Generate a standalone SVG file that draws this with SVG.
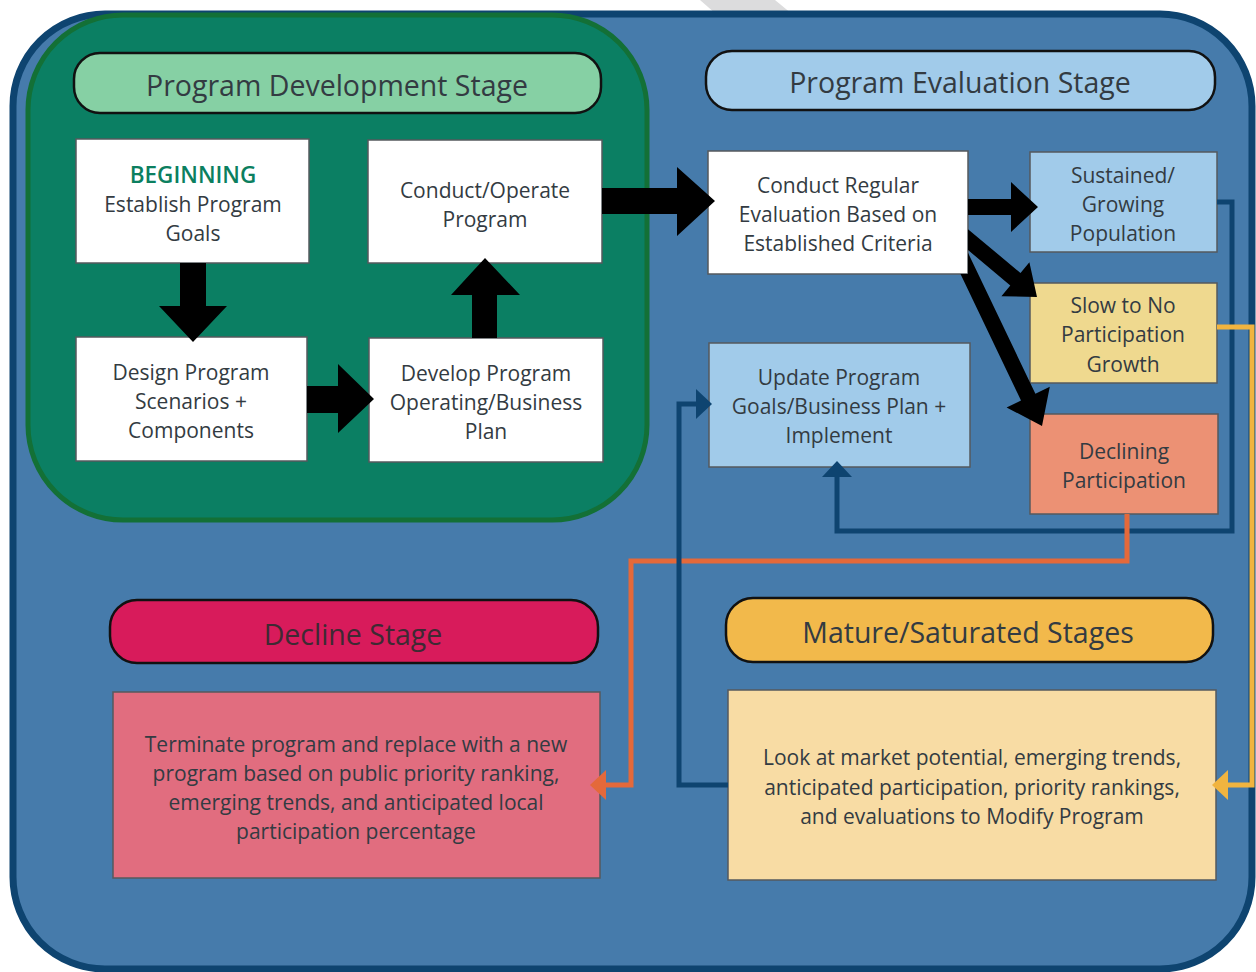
<svg xmlns="http://www.w3.org/2000/svg" width="1256" height="972" viewBox="0 0 1256 972">
<style>
  text { font-family: "Open Sans", "Noto Sans", sans-serif; fill: #333b42; text-anchor: middle; }
  .h { font-size: 28.5px; }
  .t { font-size: 21px; }
  .box { stroke: #555a5e; stroke-width: 1.5; }
  .pill { stroke: #111; stroke-width: 2.5; }
  .blk { fill: #000; }
  .ln { fill: none; stroke-width: 5; }
</style>
<defs>
  <marker id="ah-blue" markerUnits="userSpaceOnUse" markerWidth="16" markerHeight="30" refX="0" refY="15" orient="auto" overflow="visible"><path d="M0,0 L16,15 L0,30 Z" fill="#0e4470"/></marker>
  <marker id="ah-orange" markerUnits="userSpaceOnUse" markerWidth="16" markerHeight="30" refX="0" refY="15" orient="auto" overflow="visible"><path d="M0,0 L16,15 L0,30 Z" fill="#e4693a"/></marker>
  <marker id="ah-yellow" markerUnits="userSpaceOnUse" markerWidth="16" markerHeight="30" refX="0" refY="15" orient="auto" overflow="visible"><path d="M0,0 L16,15 L0,30 Z" fill="#f1b43f"/></marker>
</defs>

<g id="background">
  <polygon points="700,0 775,0 792,14 716,14" fill="#dcdcdd"/>
  <rect x="13" y="14" width="1239" height="955" rx="92" fill="#467bab" stroke="#0e4470" stroke-width="7"/>
  <rect x="28" y="15" width="619" height="505" rx="95" fill="#0b7f63" stroke="#137036" stroke-width="5"/>
</g>

<g id="nodes">
  <g id="dev-stage">
    <rect class="pill" x="74" y="53" width="527" height="60" rx="26" fill="#86d0a4"/>
    <text class="h" x="337" y="96">Program Development Stage</text>
  </g>
  <g id="eval-stage">
    <rect class="pill" x="706" y="51" width="509" height="59" rx="26" fill="#a1cbea"/>
    <text class="h" x="960" y="93">Program Evaluation Stage</text>
  </g>
  <g id="beginning">
    <rect class="box" x="76" y="139" width="233" height="124" fill="#fff"/>
    <text class="t" x="193" y="183" style="fill:#0c7f5f;font-size:22.5px;font-weight:600">BEGINNING</text>
    <text class="t" x="193" y="212">Establish Program</text>
    <text class="t" x="193" y="241">Goals</text>
  </g>
  <g id="conduct-operate">
    <rect class="box" x="368" y="140" width="234" height="123" fill="#fff"/>
    <text class="t" x="485" y="198">Conduct/Operate</text>
    <text class="t" x="485" y="227">Program</text>
  </g>
  <g id="design">
    <rect class="box" x="76" y="337" width="231" height="124" fill="#fff"/>
    <text class="t" x="191" y="380">Design Program</text>
    <text class="t" x="191" y="409">Scenarios +</text>
    <text class="t" x="191" y="438">Components</text>
  </g>
  <g id="develop">
    <rect class="box" x="369" y="338" width="234" height="124" fill="#fff"/>
    <text class="t" x="486" y="381">Develop Program</text>
    <text class="t" x="486" y="410">Operating/Business</text>
    <text class="t" x="486" y="439">Plan</text>
  </g>
  <g id="evaluate">
    <rect class="box" x="708" y="151" width="260" height="123" fill="#fff"/>
    <text class="t" x="838" y="193">Conduct Regular</text>
    <text class="t" x="838" y="222">Evaluation Based on</text>
    <text class="t" x="838" y="251">Established Criteria</text>
  </g>
  <g id="sustained">
    <rect class="box" x="1030" y="152" width="187" height="100" fill="#a1cbea"/>
    <text class="t" x="1123" y="183">Sustained/</text>
    <text class="t" x="1123" y="212">Growing</text>
    <text class="t" x="1123" y="241">Population</text>
  </g>
  <g id="slow">
    <rect class="box" x="1030" y="283" width="187" height="100" fill="#efd98f"/>
    <text class="t" x="1123" y="313">Slow to No</text>
    <text class="t" x="1123" y="342">Participation</text>
    <text class="t" x="1123" y="372">Growth</text>
  </g>
  <g id="declining">
    <rect class="box" x="1030" y="414" width="188" height="100" fill="#ec9174"/>
    <text class="t" x="1124" y="459">Declining</text>
    <text class="t" x="1124" y="488">Participation</text>
  </g>
  <g id="update">
    <rect class="box" x="709" y="343" width="261" height="124" fill="#a1cbea"/>
    <text class="t" x="839" y="385">Update Program</text>
    <text class="t" x="839" y="414">Goals/Business Plan +</text>
    <text class="t" x="839" y="443">Implement</text>
  </g>
  <g id="decline-stage">
    <rect class="pill" x="110" y="600" width="488" height="63" rx="27" fill="#d81b5b"/>
    <text class="h" x="353" y="645" style="fill:#3e2a33">Decline Stage</text>
  </g>
  <g id="mature-stage">
    <rect class="pill" x="726" y="598" width="487" height="64" rx="27" fill="#f2b94b"/>
    <text class="h" x="968" y="643">Mature/Saturated Stages</text>
  </g>
  <g id="terminate">
    <rect class="box" x="113" y="692" width="487" height="186" fill="#e16d7f"/>
    <text class="t" x="356" y="752">Terminate program and replace with a new</text>
    <text class="t" x="356" y="781">program based on public priority ranking,</text>
    <text class="t" x="356" y="810">emerging trends, and anticipated local</text>
    <text class="t" x="356" y="839">participation percentage</text>
  </g>
  <g id="modify">
    <rect class="box" x="728" y="690" width="488" height="190" fill="#f8dca4"/>
    <text class="t" x="972" y="765">Look at market potential, emerging trends,</text>
    <text class="t" x="972" y="795">anticipated participation, priority rankings,</text>
    <text class="t" x="972" y="824">and evaluations to Modify Program</text>
  </g>
</g>

<g id="connectors">
  <polygon class="blk" points="180,263 206,263 206,306 227,306 193,342 159,306 180,306"/>
  <polygon class="blk" points="307,386 338,386 338,364 374,399 338,433 338,413 307,413"/>
  <polygon class="blk" points="472,338 497,338 497,295 520,295 485,258 451,295 472,295"/>
  <polygon class="blk" points="602,188 677,188 677,167 715,201 677,236 677,214 602,214"/>
  <polygon class="blk" points="968,199 1011,199 1011,182 1038,207 1011,232 1011,215 968,215"/>
  <polygon class="blk" points="968,229.2 1020.5,273.0 1029.4,262.2 1037,297 1001.4,296.2 1010.3,285.4 968,250"/>
  <polygon class="blk" points="968,252.8 1035.4,393.7 1049.8,386.8 1042,426 1006.6,407.4 1021.0,400.5 960.5,274 968,274"/>
  <path class="ln" stroke="#0e4470" d="M1217,202 H1232 V531 H837 V477" marker-end="url(#ah-blue)"/>
  <path class="ln" stroke="#e4693a" d="M1127,514 V561 H631 V785 H606" marker-end="url(#ah-orange)"/>
  <path class="ln" stroke="#0e4470" d="M728,785 H679 V404 H696" marker-end="url(#ah-blue)"/>
  <path class="ln" stroke="#f1b43f" stroke-width="4" d="M1217,327 H1252 V785 H1228" marker-end="url(#ah-yellow)"/>
</g>
</svg>
